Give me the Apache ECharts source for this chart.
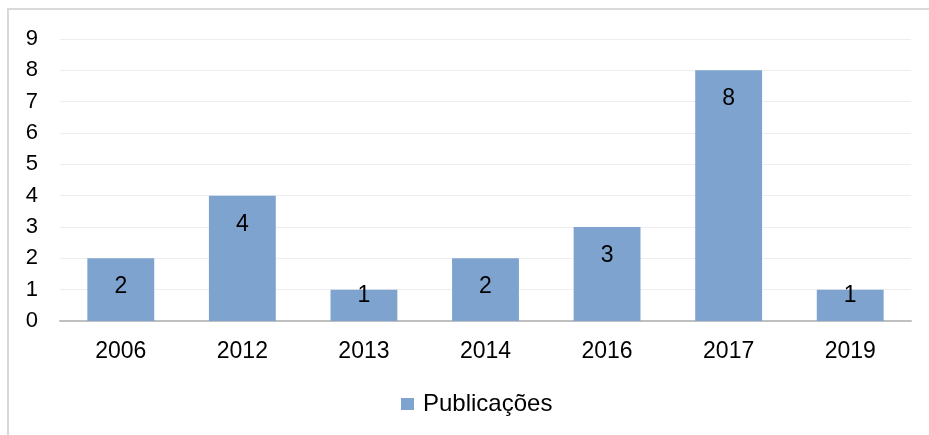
<!DOCTYPE html>
<html>
<head>
<meta charset="utf-8">
<script src="https://cdn.jsdelivr.net/npm/echarts@6/dist/echarts.min.js"></script>
<style>
  html, body { margin: 0; padding: 0; background: #ffffff; }
  #chart { width: 929px; height: 435px; }
</style>
</head>
<body>
<div id="chart"></div>
<script>
// dados
const anos = ['2006', '2012', '2013', '2014', '2016', '2017', '2019'];
const publicacoes = [2, 4, 1, 2, 3, 8, 1];
const serieNome = 'Publicações';

const fonte = '"Liberation Sans", Arial, sans-serif';

// barras muito baixas: o rótulo sobe para caber (como no Excel)
const dadosBarra = publicacoes.map(v => v <= 1 ? { value: v, label: { offset: [0, -23] } } : v);

const chart = echarts.init(document.getElementById('chart'), null, { renderer: 'canvas' });

chart.setOption({
  animation: false,
  backgroundColor: '#ffffff',
  // moldura cinza clara do gráfico
  graphic: [{
    type: 'rect',
    shape: { x: 8, y: 9, width: 960, height: 460 },
    style: { fill: 'none', stroke: '#d9d9d9', lineWidth: 2 },
    silent: true
  }],
  grid: { left: 60, right: 18, top: 39, bottom: 114, containLabel: false },
  legend: {
    data: [serieNome],
    left: 401,
    top: 392,
    padding: 0,
    icon: 'rect',
    itemWidth: 13,
    itemHeight: 12,
    textStyle: { fontFamily: fonte, fontSize: 24, color: '#000000', padding: [0, 0, 0, 4] }
  },
  xAxis: {
    type: 'category',
    data: anos,
    axisLine: { lineStyle: { color: '#bfbfbf', width: 2 } },
    axisTick: { show: false },
    axisLabel: { fontFamily: fonte, fontSize: 23, color: '#000000', margin: 19 }
  },
  yAxis: {
    type: 'value',
    min: 0,
    max: 9,
    interval: 1,
    axisLine: { show: false },
    axisTick: { show: false },
    splitLine: { lineStyle: { color: '#eeeeee', width: 1 } },
    axisLabel: { fontFamily: fonte, fontSize: 22, color: '#000000', margin: 22 }
  },
  series: [{
    name: serieNome,
    type: 'bar',
    data: dadosBarra,
    barWidth: '55%',
    itemStyle: { color: '#7ea3cf' },
    label: {
      show: true,
      position: 'insideTop',
      distance: 17,
      fontFamily: fonte,
      fontSize: 23,
      color: '#000000'
    }
  }]
});
</script>
</body>
</html>
